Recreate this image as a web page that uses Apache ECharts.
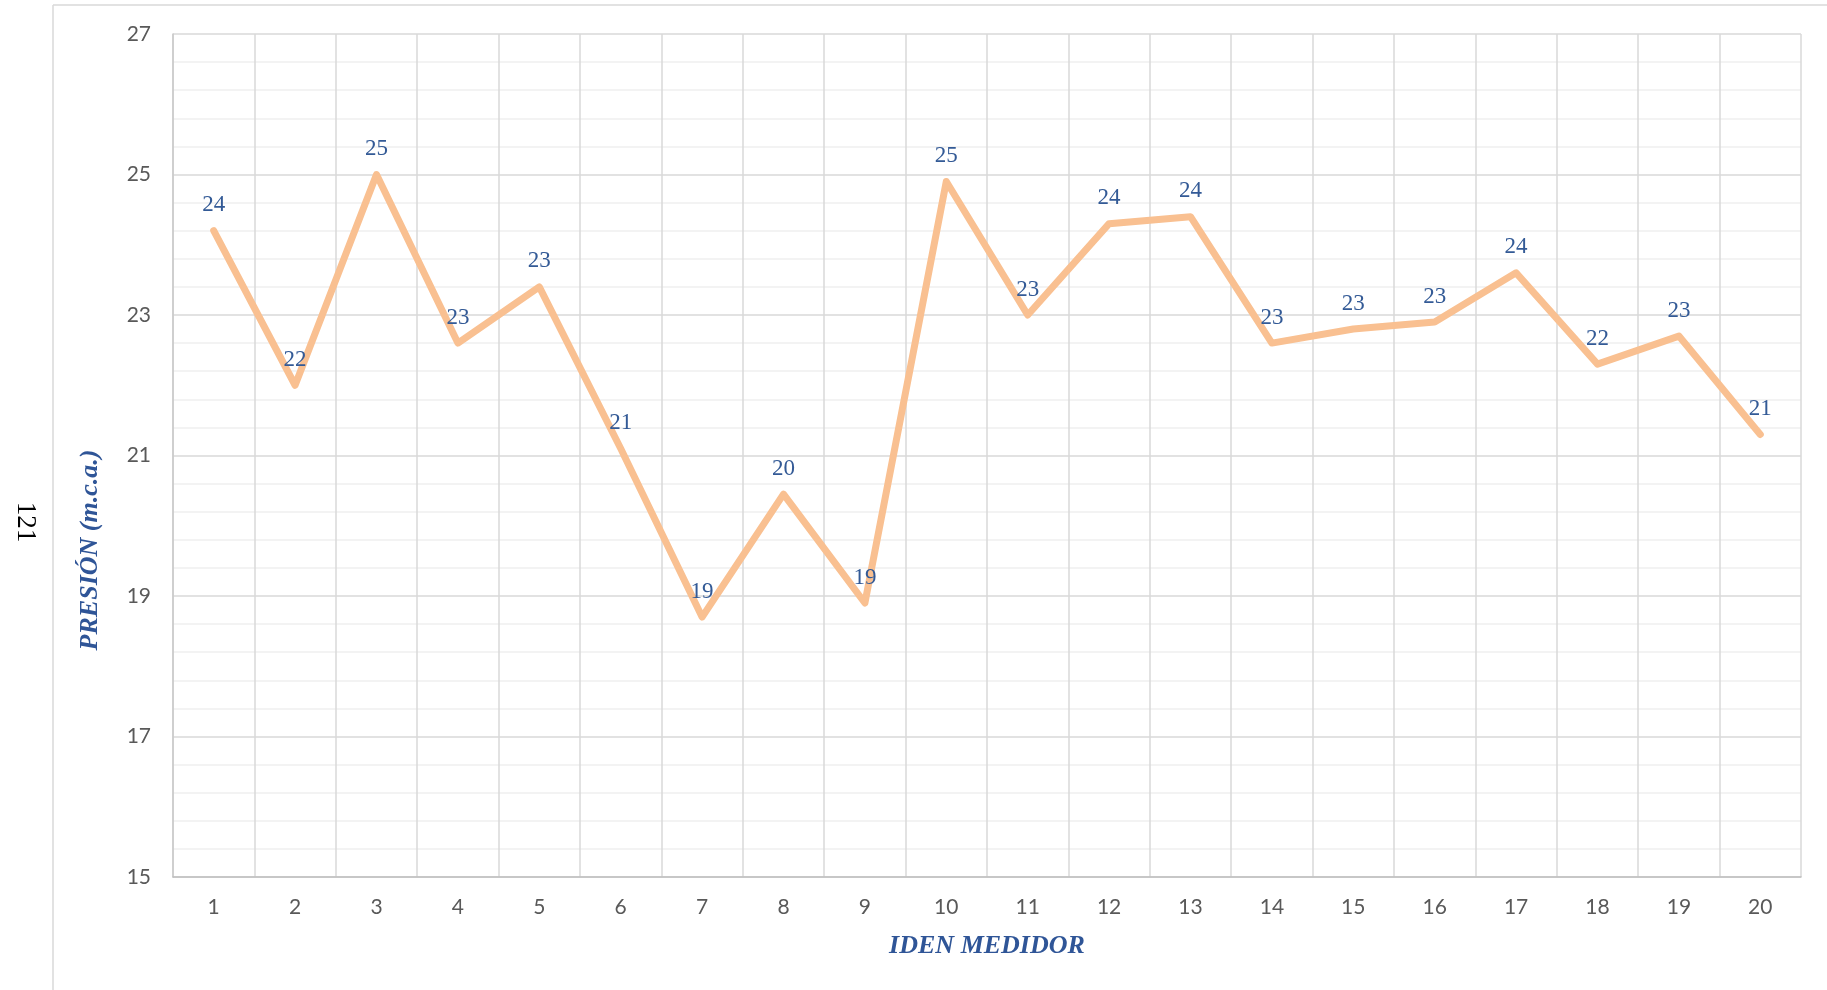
<!DOCTYPE html>
<html>
<head>
<meta charset="utf-8">
<title>Presión por medidor</title>
<script src="https://cdn.jsdelivr.net/npm/echarts@6/dist/echarts.min.js"></script>
<style>
  html, body { margin: 0; padding: 0; background: #ffffff; }
  #chart { width: 1827px; height: 990px; }
</style>
</head>
<body>
<div id="chart"></div>
<script>
// Meter identifiers along the horizontal axis
const medidores = ['1','2','3','4','5','6','7','8','9','10','11','12','13','14','15','16','17','18','19','20'];
// Measured pressure per meter (m.c.a.)
const presion = [24.2, 22.0, 25.0, 22.6, 23.4, 21.1, 18.7, 20.45, 18.9, 24.9, 23.0, 24.3, 24.4, 22.6, 22.8, 22.9, 23.6, 22.3, 22.7, 21.3];
// Value axis range and step
const yMin = 15;
const yMax = 27;
const yStep = 2;

const titleBlue = '#2F5597';
const labelBlue = '#335A96';
const gridGray = '#d9d9d9';
const lineOrange = '#F9C091';

const chart = echarts.init(document.getElementById('chart'), null, { renderer: 'canvas' });

chart.setOption({
  backgroundColor: '#ffffff',
  animation: false,
  grid: { left: 173, top: 34, width: 1628, height: 843, containLabel: false },
  xAxis: {
    type: 'category',
    data: medidores,
    boundaryGap: true,
    name: 'IDEN MEDIDOR',
    nameLocation: 'middle',
    nameGap: 56,
    nameTextStyle: {
      fontFamily: 'Liberation Serif',
      fontStyle: 'italic',
      fontWeight: 'bold',
      fontSize: 26,
      color: titleBlue
    },
    axisLine: { show: true, lineStyle: { color: '#bfbfbf', width: 1.5 } },
    axisTick: { show: false },
    axisLabel: {
      interval: 0,
      margin: 20,
      fontFamily: 'Lato',
      fontSize: 21,
      color: '#595959'
    },
    splitLine: { show: true, interval: 0, lineStyle: { color: gridGray, width: 1.5 } }
  },
  yAxis: {
    type: 'value',
    min: yMin,
    max: yMax,
    interval: yStep,
    axisLine: { show: true, lineStyle: { color: '#c8c8c8', width: 1.5 } },
    axisTick: { show: false },
    axisLabel: {
      margin: 22,
      fontFamily: 'Lato',
      fontSize: 21,
      color: '#595959'
    },
    splitLine: { show: true, lineStyle: { color: gridGray, width: 1.5 } },
    minorTick: { show: false, splitNumber: 5 },
    minorSplitLine: { show: true, lineStyle: { color: '#f0f0f0', width: 1.5 } }
  },
  series: [{
    type: 'line',
    data: presion,
    symbol: 'circle',
    symbolSize: 2,
    showSymbol: true,
    showAllSymbol: true,
    lineStyle: { color: lineOrange, width: 7, cap: 'round', join: 'round' },
    itemStyle: { color: lineOrange },
    label: {
      show: true,
      position: 'top',
      distance: 13,
      fontFamily: 'Liberation Serif',
      fontSize: 23,
      color: labelBlue,
      formatter: (p) => String(Math.round(p.value))
    },
    labelLayout: { hideOverlap: false },
    z: 5
  }],
  graphic: [
    // outer chart-area frame (left and top edges)
    { type: 'line', shape: { x1: 53, y1: 5, x2: 53, y2: 990 }, style: { stroke: gridGray, lineWidth: 1.5 }, silent: true },
    { type: 'line', shape: { x1: 53, y1: 5, x2: 1827, y2: 5 }, style: { stroke: gridGray, lineWidth: 1.5 }, silent: true },
    // vertical axis title
    {
      type: 'text',
      x: 90, y: 550,
      rotation: Math.PI / 2,
      style: {
        text: 'PRESIÓN (m.c.a.)',
        fontFamily: 'Liberation Serif',
        fontStyle: 'italic',
        fontWeight: 'bold',
        fontSize: 26,
        fill: titleBlue,
        textAlign: 'center',
        textVerticalAlign: 'middle'
      },
      silent: true
    },
    // page number
    {
      type: 'text',
      x: 25, y: 522,
      rotation: -Math.PI / 2,
      style: {
        text: '121',
        fontFamily: 'Liberation Serif',
        fontSize: 27,
        fill: '#000000',
        textAlign: 'center',
        textVerticalAlign: 'middle'
      },
      silent: true
    }
  ]
});
</script>
</body>
</html>
